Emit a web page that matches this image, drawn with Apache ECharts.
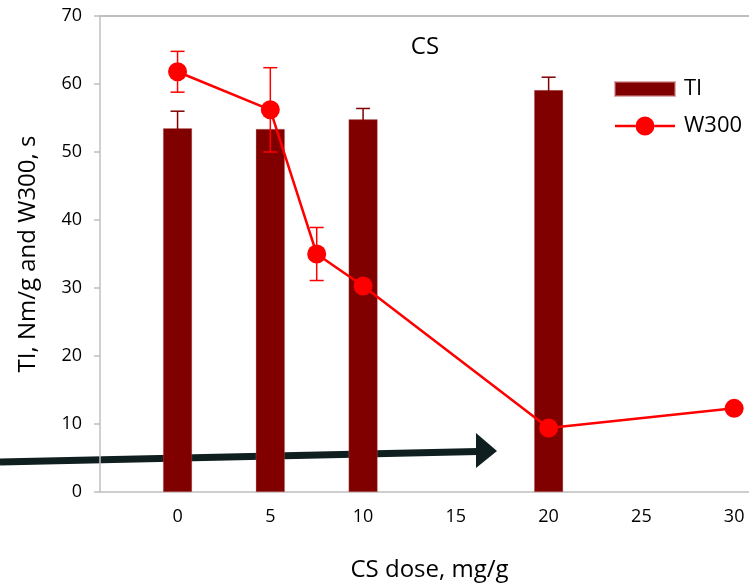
<!DOCTYPE html>
<html>
<head>
<meta charset="utf-8">
<script src="https://cdn.jsdelivr.net/npm/echarts@6/dist/echarts.min.js"></script>
<style>
  html, body { margin: 0; padding: 0; background: #fff; }
  #chart { width: 749px; height: 587px; }
</style>
</head>
<body>
<div id="chart"></div>
<script>
// TI bars
const tiDose = [0, 5, 10, 20];
const tiValues = [53.5, 53.4, 54.8, 59.1];
const tiErr = [2.5, 0, 1.6, 1.9];
// W300 line
const wDose = [0, 5, 7.5, 10, 20, 30];
const wValues = [61.8, 56.2, 35.0, 30.3, 9.4, 12.3];
const wErr = [3.0, 6.2, 3.9, 0, 0, 0];
// tick labels
const xTicks = [0, 5, 10, 15, 20, 25, 30];
const yTicks = [0, 10, 20, 30, 40, 50, 60, 70];

const font = 'Open Sans';
const axisGrey = '#bfbfbf';

function errData(xs, ys, es) {
    return xs.map((x, i) => [x, ys[i] - es[i], ys[i] + es[i], es[i]]);
}

// whiskers drawn through the axes
function errorBar(color) {
    return function (params, api) {
        if (api.value(3) === 0) return null;
        const x = api.value(0);
        const lo = api.coord([x, api.value(1)]);
        const hi = api.coord([x, api.value(2)]);
        const half = 7;
        const style = { stroke: color, lineWidth: 1.5 };
        return {
            type: 'group',
            children: [
                { type: 'line', shape: { x1: lo[0], y1: lo[1], x2: hi[0], y2: hi[1] }, style: style },
                { type: 'line', shape: { x1: hi[0] - half, y1: hi[1], x2: hi[0] + half, y2: hi[1] }, style: style },
                { type: 'line', shape: { x1: lo[0] - half, y1: lo[1], x2: lo[0] + half, y2: lo[1] }, style: style }
            ]
        };
    };
}

// legend icons: filled box, and line with a dot
const barIcon = 'path://M0,2.5H60V16.5H0Z';
const lineIcon = 'path://M0,8.25H20.5V10.75H0Z M39.5,8.25H60V10.75H39.5Z ' +
    'M20.5,9.5A9.5,9.5,0,1,1,39.5,9.5A9.5,9.5,0,1,1,20.5,9.5Z';

const chart = echarts.init(document.getElementById('chart'));

chart.setOption({
    animation: false,
    backgroundColor: '#fff',
    textStyle: { fontFamily: font },
    title: {
        text: 'CS',
        left: 420,
        top: 30,
        textAlign: 'center',
        textStyle: { fontFamily: font, fontSize: 24, fontWeight: 'normal', color: '#000' }
    },
    legend: {
        orient: 'vertical',
        left: 609,
        top: 73,
        itemWidth: 60,
        itemHeight: 19,
        itemGap: 15,
        data: [
            { name: 'TI', icon: barIcon },
            { name: 'W300', icon: lineIcon }
        ],
        textStyle: { fontFamily: font, fontSize: 22, color: '#000', padding: [0, 0, 0, 4] }
    },
    grid: { left: 100, right: 0, top: 16, bottom: 95, outerBoundsMode: 'none' },
    xAxis: [{
        type: 'value',
        min: -4.18,
        max: 30.8,
        name: 'CS dose, mg/g',
        nameLocation: 'middle',
        nameGap: 66,
        nameTextStyle: { fontFamily: font, fontSize: 24, color: '#000', padding: [0, 0, 0, 10] },
        axisLine: { show: true, onZero: false, lineStyle: { color: axisGrey, width: 1.5 } },
        axisTick: { show: false },
        splitLine: { show: false },
        axisLabel: {
            customValues: xTicks,
            margin: 16,
            fontFamily: font,
            fontSize: 18,
            color: '#000'
        }
    }, {
        type: 'value',
        position: 'top',
        min: -4.18,
        max: 30.8,
        axisLine: { show: true, onZero: false, lineStyle: { color: axisGrey, width: 2 } },
        axisTick: { show: false },
        axisLabel: { show: false },
        splitLine: { show: false }
    }],
    yAxis: {
        type: 'value',
        min: 0,
        max: 70,
        interval: 10,
        name: 'TI, Nm/g and W300, s',
        nameLocation: 'middle',
        nameGap: 60,
        nameTextStyle: { fontFamily: font, fontSize: 24, color: '#000' },
        axisLine: { show: true, onZero: false, lineStyle: { color: axisGrey, width: 1.5 } },
        axisTick: { show: true, inside: false, length: 6, lineStyle: { color: axisGrey, width: 1.5 } },
        splitLine: { show: false },
        axisLabel: {
            margin: 18,
            fontFamily: font,
            fontSize: 18,
            color: '#000',
            formatter: v => yTicks.includes(v) ? String(v) : ''
        }
    },
    graphic: [{
        type: 'group',
        z: 100,
        children: [
            {
                type: 'polyline',
                shape: { points: [[0, 462], [478, 451.5]] },
                style: { stroke: '#0f1e1e', lineWidth: 7 }
            },
            {
                type: 'polygon',
                shape: { points: [[476, 433], [497, 451], [476, 468]] },
                style: { fill: '#0f1e1e' }
            }
        ]
    }],
    series: [{
        name: 'TI',
        type: 'bar',
        barWidth: 29,
        z: 2,
        itemStyle: { color: '#800000', borderColor: 'rgba(200,120,120,0.6)', borderWidth: 0.5 },
        data: tiDose.map((x, i) => [x, tiValues[i]])
    }, {
        name: 'TI err',
        type: 'custom',
        z: 3,
        renderItem: errorBar('#800000'),
        data: errData(tiDose, tiValues, tiErr),
        encode: { x: 0, y: [1, 2] }
    }, {
        name: 'W300',
        type: 'line',
        z: 5,
        symbol: 'circle',
        symbolSize: 19,
        lineStyle: { color: '#ff0000', width: 2.5 },
        itemStyle: { color: '#ff0000' },
        data: wDose.map((x, i) => [x, wValues[i]])
    }, {
        name: 'W300 err',
        type: 'custom',
        z: 4,
        renderItem: errorBar('#ff0000'),
        data: errData(wDose, wValues, wErr),
        encode: { x: 0, y: [1, 2] }
    }]
});
</script>
</body>
</html>
